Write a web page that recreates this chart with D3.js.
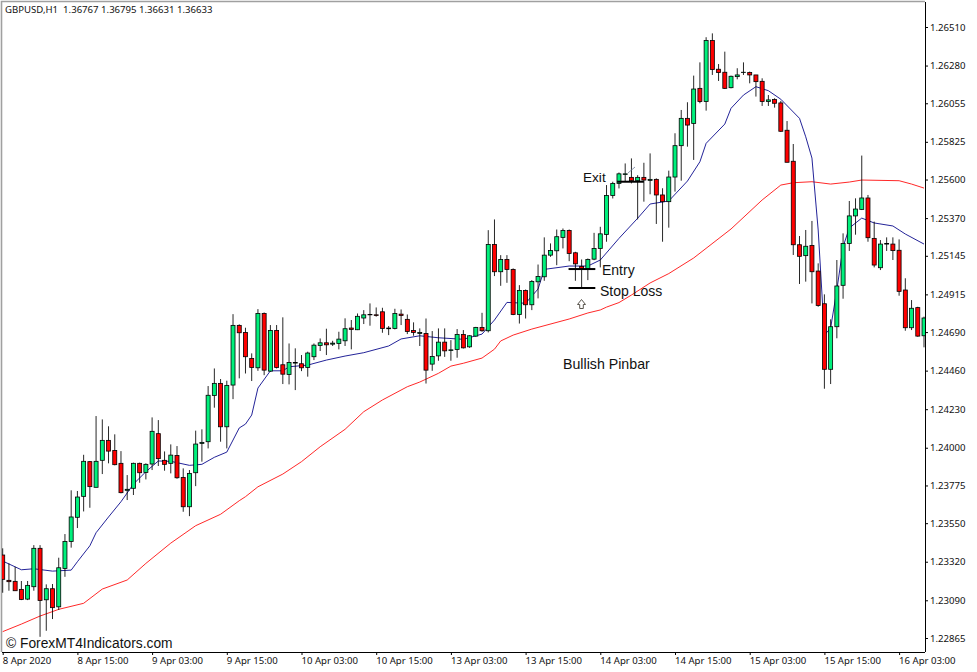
<!DOCTYPE html>
<html>
<head>
<meta charset="utf-8">
<style>
  html, body { margin: 0; padding: 0; background: #fff; }
  svg { display: block; }
  .axis text { font-family: "Noto Sans", Tahoma, sans-serif; font-size: 9.6px; fill: #111; }
  .note { font-family: "Liberation Sans", Arial, sans-serif; fill: #111; }
</style>
<script src="https://cdn.jsdelivr.net/npm/d3@7"></script>
</head>
<body>
<svg id="chart" width="977" height="672"></svg>
<script>
// GBPUSD H1 candles
const opens = [
  1.23360,1.23209,1.23203,1.23155,1.23097,1.23171,1.23400,1.23093,1.23159,1.23051,
  1.23280,1.23441,1.23585,1.23710,1.23917,1.23764,1.23925,1.24044,1.23984,1.23907,
  1.23746,1.23758,1.23907,1.23853,1.23903,1.24084,1.23925,1.23907,1.23954,1.23823,
  1.23648,1.23851,1.24026,1.24036,1.24312,1.24384,1.24125,1.24374,1.24730,1.24688,
  1.24533,1.24477,1.24801,1.24457,1.24700,1.24495,1.24437,1.24505,1.24501,1.24479,
  1.24543,1.24610,1.24626,1.24618,1.24622,1.24638,1.24714,1.24704,1.24774,1.24793,
  1.24793,1.24811,1.24710,1.24712,1.24797,1.24766,1.24700,1.24682,1.24682,1.24499,
  1.24548,1.24630,1.24580,1.24586,1.24676,1.24602,1.24666,1.24718,1.24698,1.25213,
  1.25050,1.25123,1.25064,1.24795,1.24938,1.24853,1.24990,1.25020,1.25149,1.25175,
  1.25255,1.25296,1.25163,1.25082,1.25066,1.25125,1.25189,1.25272,1.25505,1.25577,
  1.25630,1.25613,1.25593,1.25613,1.25595,1.25601,1.25508,1.25468,1.25615,1.25802,
  1.25965,1.25935,1.26144,1.26065,1.26429,1.26258,1.26240,1.26148,1.26214,1.26238,
  1.26238,1.26224,1.26186,1.26065,1.26077,1.26057,1.25894,1.25709,1.25211,1.25146,
  1.25207,1.25054,1.24859,1.24468,1.24722,1.24969,1.25219,1.25383,1.25422,1.25490,
  1.25249,1.25074,1.25215,1.25215,1.25178,1.24941,1.24716,1.24836,1.24668
];
const highs = [
  1.23400,1.23310,1.23290,1.23205,1.23205,1.23419,1.23419,1.23185,1.23187,1.23344,
  1.23485,1.23746,1.23742,1.23958,1.23921,1.24189,1.24169,1.24128,1.24080,1.23980,
  1.23837,1.23911,1.23911,1.23907,1.24181,1.24165,1.23978,1.24020,1.24010,1.23877,
  1.23867,1.24102,1.24110,1.24368,1.24473,1.24410,1.24400,1.24797,1.24736,1.24716,
  1.24563,1.24827,1.24807,1.24732,1.24732,1.24778,1.24622,1.24593,1.24553,1.24573,
  1.24622,1.24652,1.24710,1.24638,1.24692,1.24772,1.24762,1.24801,1.24821,1.24861,
  1.24837,1.24835,1.24726,1.24829,1.24825,1.24795,1.24748,1.24712,1.24771,1.24696,
  1.24712,1.24712,1.24642,1.24708,1.24702,1.24672,1.24721,1.24805,1.25298,1.25362,
  1.25149,1.25149,1.25070,1.24970,1.24944,1.25000,1.25093,1.25255,1.25219,1.25302,
  1.25308,1.25302,1.25169,1.25123,1.25129,1.25282,1.25318,1.25567,1.25587,1.25642,
  1.25696,1.25726,1.25626,1.25700,1.25756,1.25607,1.25548,1.25653,1.25876,1.26015,
  1.26061,1.26220,1.26299,1.26449,1.26472,1.26289,1.26363,1.26220,1.26264,1.26299,
  1.26244,1.26224,1.26204,1.26104,1.26085,1.26069,1.25949,1.25812,1.25263,1.25299,
  1.25353,1.25100,1.24915,1.24766,1.25120,1.25279,1.25472,1.25488,1.25743,1.25508,
  1.25349,1.25239,1.25255,1.25255,1.25243,1.25011,1.24881,1.24841,1.24782
];
const lows = [
  1.23135,1.23147,1.23147,1.23091,1.23091,1.23147,1.22872,1.22908,1.22978,1.23032,
  1.23230,1.23404,1.23521,1.23620,1.23642,1.23764,1.23843,1.23907,1.23895,1.23728,
  1.23688,1.23718,1.23791,1.23811,1.23867,1.23891,1.23863,1.23847,1.23815,1.23618,
  1.23592,1.23771,1.23917,1.23996,1.24239,1.24036,1.23996,1.24290,1.24414,1.24443,
  1.24398,1.24459,1.24433,1.24453,1.24473,1.24380,1.24378,1.24344,1.24457,1.24424,
  1.24523,1.24577,1.24553,1.24607,1.24587,1.24607,1.24587,1.24702,1.24738,1.24728,
  1.24782,1.24686,1.24672,1.24706,1.24732,1.24678,1.24668,1.24607,1.24383,1.24459,
  1.24519,1.24542,1.24519,1.24537,1.24592,1.24596,1.24662,1.24692,1.24688,1.25024,
  1.24966,1.24984,1.24791,1.24741,1.24771,1.24821,1.24891,1.24996,1.25139,1.25089,
  1.25189,1.25113,1.24996,1.24950,1.25000,1.25119,1.25076,1.25229,1.25487,1.25547,
  1.25587,1.25577,1.25362,1.25468,1.25512,1.25335,1.25229,1.25313,1.25528,1.25593,
  1.25796,1.25717,1.26055,1.26011,1.26224,1.26188,1.26140,1.26144,1.26198,1.26224,
  1.26174,1.26095,1.26039,1.26039,1.26029,1.25884,1.25703,1.25150,1.24977,1.24991,
  1.24861,1.24841,1.24352,1.24380,1.24653,1.24889,1.25174,1.25271,1.25418,1.25229,
  1.25076,1.25060,1.25174,1.25120,1.24907,1.24698,1.24702,1.24662,1.24599
];
const closes = [
  1.23215,1.23201,1.23147,1.23095,1.23179,1.23400,1.23089,1.23159,1.23046,1.23284,
  1.23441,1.23587,1.23706,1.23919,1.23768,1.23919,1.24044,1.23980,1.23899,1.23732,
  1.23752,1.23907,1.23851,1.23901,1.24098,1.23935,1.23901,1.23956,1.23821,1.23648,
  1.23847,1.24022,1.24032,1.24313,1.24384,1.24125,1.24372,1.24730,1.24686,1.24543,
  1.24479,1.24801,1.24463,1.24700,1.24479,1.24439,1.24509,1.24509,1.24477,1.24565,
  1.24612,1.24626,1.24614,1.24624,1.24648,1.24710,1.24706,1.24784,1.24793,1.24795,
  1.24789,1.24712,1.24714,1.24801,1.24789,1.24694,1.24688,1.24688,1.24463,1.24544,
  1.24630,1.24578,1.24584,1.24676,1.24596,1.24668,1.24718,1.24698,1.25213,1.25050,
  1.25123,1.25064,1.24795,1.24938,1.24853,1.24992,1.25022,1.25149,1.25177,1.25259,
  1.25296,1.25159,1.25097,1.25066,1.25123,1.25189,1.25276,1.25505,1.25577,1.25634,
  1.25634,1.25593,1.25613,1.25597,1.25601,1.25508,1.25468,1.25615,1.25802,1.25965,
  1.25925,1.26140,1.26065,1.26429,1.26256,1.26238,1.26144,1.26216,1.26224,1.26240,
  1.26224,1.26184,1.26065,1.26075,1.26055,1.25888,1.25703,1.25211,1.25142,1.25202,
  1.25050,1.24849,1.24468,1.24722,1.24965,1.25219,1.25383,1.25424,1.25490,1.25253,
  1.25090,1.25215,1.25219,1.25176,1.24933,1.24716,1.24832,1.24666,1.24774
];

// fast moving average, sampled at these bars
const fastBars = [0,3,5,8,11,12,14,15,17,19,21,23,25,27,30,32,34,36,38,39,40,41,43,45,46,49,52,55,58,62,64,67,70,74,77,79,81,84,86,87,91,94,96,99,102,104,107,110,112,113,116,117,119,121,123,125,128,129,130,131,132,133,134,135,136,138,140,143,145,148];
const fastValues = [1.23324,1.23272,1.23278,1.23264,1.23270,1.23320,1.23415,1.23493,1.23587,1.23678,1.23783,1.23857,1.23921,1.23919,1.23895,1.23901,1.23943,1.23974,1.24118,1.24141,1.24195,1.24356,1.24459,1.24459,1.24483,1.24493,1.24523,1.24547,1.24567,1.24607,1.24649,1.24668,1.24656,1.24647,1.24678,1.24762,1.24867,1.24862,1.24947,1.25064,1.25084,1.25084,1.25120,1.25249,1.25369,1.25454,1.25472,1.25591,1.25706,1.25816,1.25931,1.26025,1.26104,1.26154,1.26130,1.26079,1.25965,1.25855,1.25728,1.25299,1.24672,1.24714,1.24941,1.25199,1.25311,1.25370,1.25341,1.25323,1.25275,1.25215];

// slow moving average, sampled at these bars
const slowBars = [0,3,6,9,13,16,20,23,27,31,35,38,39,41,45,48,51,55,58,61,65,67,70,72,74,77,79,80,82,85,91,94,96,97,99,101,104,107,111,117,122,125,127,130,133,136,138,144,146,148];
const slowValues = [1.22903,1.22948,1.22996,1.23036,1.23072,1.23157,1.23211,1.23310,1.23431,1.23535,1.23603,1.23684,1.23708,1.23767,1.23843,1.23917,1.24006,1.24110,1.24215,1.24285,1.24364,1.24392,1.24444,1.24487,1.24504,1.24535,1.24588,1.24637,1.24672,1.24708,1.24768,1.24804,1.24822,1.24839,1.24866,1.24911,1.24983,1.25039,1.25132,1.25305,1.25478,1.25567,1.25581,1.25587,1.25573,1.25585,1.25597,1.25593,1.25573,1.25549];

const priceTicks = [1.26510,1.26280,1.26055,1.25825,1.25600,1.25370,1.25145,1.24915,1.24690,1.24460,1.24230,1.24000,1.23775,1.23550,1.23320,1.23090,1.22865];
const timeBars = [0,12,24,36,48,60,72,84,96,108,120,132,144];
const timeLabels = ['8 Apr 2020','8 Apr 15:00','9 Apr 03:00','9 Apr 15:00','10 Apr 03:00','10 Apr 15:00','13 Apr 03:00','13 Apr 15:00','14 Apr 03:00','14 Apr 15:00','15 Apr 03:00','15 Apr 15:00','16 Apr 03:00'];

// trade levels drawn by hand on the chart
const entryLevel = 1.25066;
const stopLevel = 1.24953;
const exitLevel = 1.25587;

const svg = d3.select('#chart');
const x = d3.scaleLinear().domain([0, 148]).range([2.7, 924]);
const y = d3.scaleLinear().domain([1.22865, 1.26510]).range([638, 27]);

const plotLeft = 2, plotRight = 925, plotTop = 2, plotBottom = 652;

svg.append('defs').append('clipPath').attr('id', 'plot')
  .append('rect').attr('x', plotLeft).attr('y', plotTop).attr('width', plotRight - plotLeft).attr('height', plotBottom - plotTop);

// frame
svg.append('path')
  .attr('d', `M1.5,${plotBottom} V1.5 H${plotRight}`)
  .attr('fill', 'none').attr('stroke', '#a0a0a0').attr('stroke-width', 1.6);

const plot = svg.append('g').attr('clip-path', 'url(#plot)');

// moving averages sit under the candles
const fastLine = d3.line().x((d, i) => x(fastBars[i])).y(d => y(d));
const slowLine = d3.line().x((d, i) => x(slowBars[i])).y(d => y(d));
plot.append('path').attr('d', slowLine(slowValues)).attr('fill', 'none').attr('stroke', '#ff1010').attr('stroke-width', 0.9);
plot.append('path').attr('d', fastLine(fastValues)).attr('fill', 'none').attr('stroke', '#0a0a8c').attr('stroke-width', 0.9);

const bars = plot.selectAll('g.bar').data(opens).enter().append('g').attr('class', 'bar');

bars.append('line')
  .attr('x1', (d, i) => x(i)).attr('x2', (d, i) => x(i))
  .attr('y1', (d, i) => y(highs[i])).attr('y2', (d, i) => y(lows[i]))
  .attr('stroke', '#000').attr('stroke-width', 0.85);

bars.append('rect')
  .attr('x', (d, i) => x(i) - 2)
  .attr('width', 4)
  .attr('y', (d, i) => y(Math.max(d, closes[i])))
  .attr('height', (d, i) => Math.abs(y(d) - y(closes[i])))
  .attr('fill', (d, i) => closes[i] >= d ? '#00f07c' : '#ff0000')
  .attr('stroke', '#000').attr('stroke-width', 0.8);

// axes
const yAxis = d3.axisRight(y).tickValues(priceTicks).tickFormat(d => d.toFixed(5)).tickSize(3).tickPadding(2);
const gy = svg.append('g').attr('class', 'axis').attr('transform', `translate(${plotRight},0)`).call(yAxis);
gy.select('.domain').attr('d', `M0.5,${plotTop} V${plotBottom}`).attr('stroke', '#000');

const xAxis = d3.axisBottom(x).tickValues(timeBars).tickFormat((d, i) => timeLabels[i]).tickSize(3).tickPadding(2);
const gx = svg.append('g').attr('class', 'axis').attr('transform', `translate(0,${plotBottom})`).call(xAxis);
gx.select('.domain').attr('d', `M${plotLeft},0.5 H${plotRight}`).attr('stroke', '#000');
gx.selectAll('text').attr('text-anchor', 'start').attr('dx', -0.5).attr('dy', '0.75em');

// title
svg.append('text').attr('x', 5).attr('y', 13)
  .attr('font-family', '"Noto Sans", Tahoma, sans-serif').attr('font-size', 9.6).attr('fill', '#111')
  .attr('xml:space', 'preserve')
  .text('GBPUSD,H1  1.36767 1.36795 1.36631 1.36633');

// trade annotations
const levels = [[90.9, 95.2, entryLevel], [90.9, 95.2, stopLevel], [98.7, 103, exitLevel]];
svg.selectAll('line.level').data(levels).enter().append('line').attr('class', 'level')
  .attr('x1', d => x(d[0])).attr('x2', d => x(d[1]))
  .attr('y1', d => y(d[2])).attr('y2', d => y(d[2]))
  .attr('stroke', '#000').attr('stroke-width', 2);

svg.append('line').attr('x1', 628).attr('y1', 173).attr('x2', 635).attr('y2', 167)
  .attr('stroke', '#6c7c9c').attr('stroke-width', 0.8);

const notes = [
  ['Exit', 583, 181.5, 13.6],
  ['Entry', 602, 275, 14],
  ['Stop Loss', 600, 296, 14],
  ['Bullish Pinbar', 563, 369, 14.2],
  ['© ForexMT4Indicators.com', 6, 647.5, 13.8]
];
svg.selectAll('text.note').data(notes).enter().append('text').attr('class', 'note')
  .attr('x', d => d[1]).attr('y', d => d[2]).attr('font-size', d => d[3]).text(d => d[0]);

// up arrow under the pinbar
svg.append('path')
  .attr('d', 'M581.5,299.5 L585.5,304.5 H583.3 V308.5 H579.7 V304.5 H577.5 Z')
  .attr('fill', '#fff').attr('stroke', '#5a564e').attr('stroke-width', 1);
</script>
</body>
</html>
